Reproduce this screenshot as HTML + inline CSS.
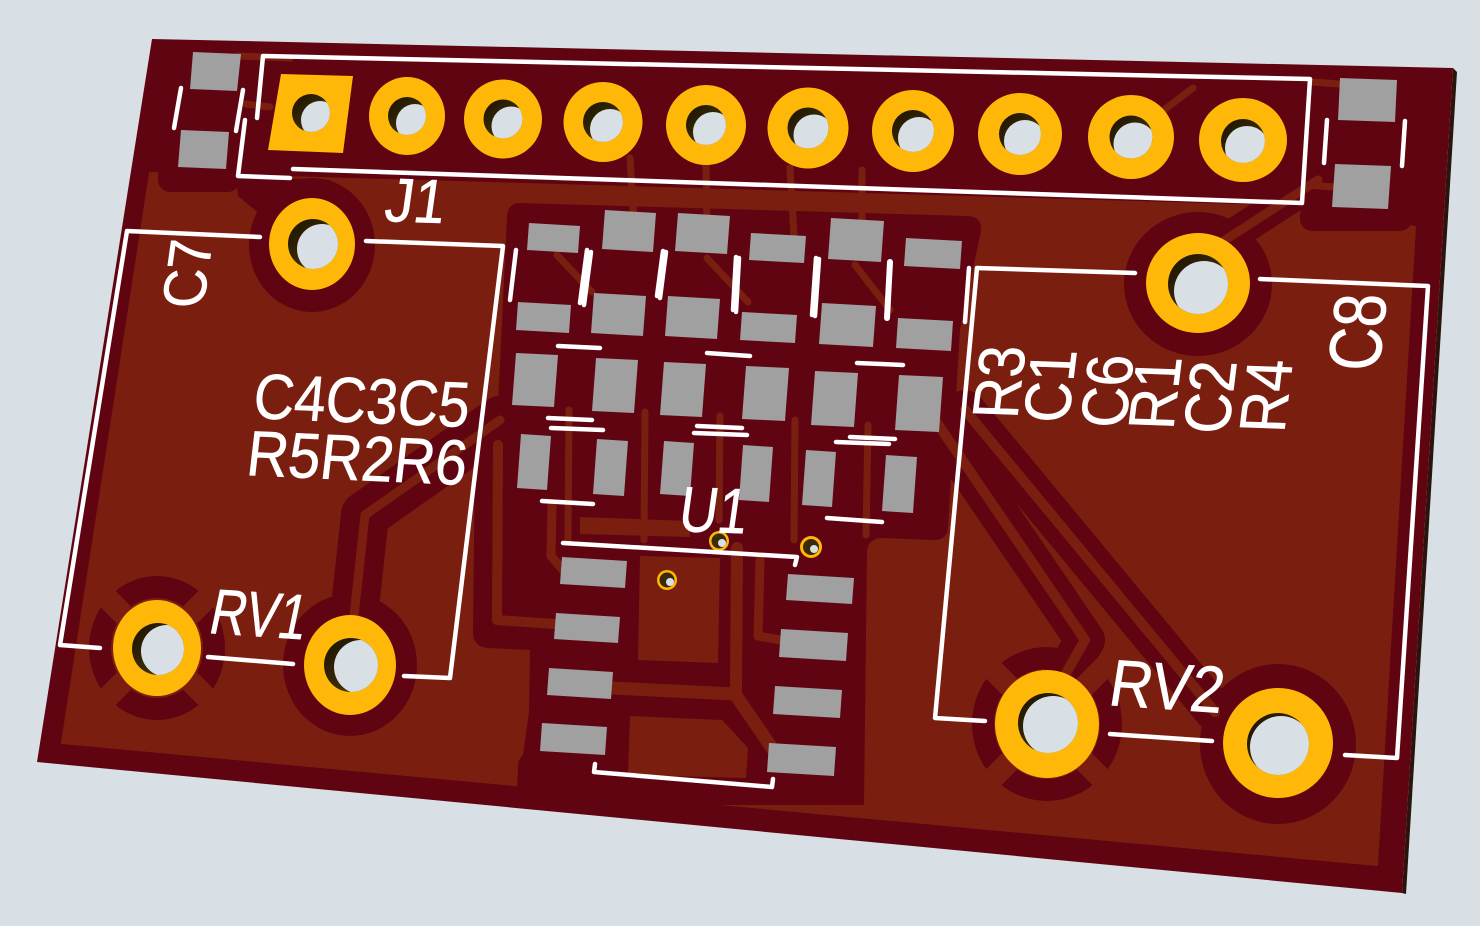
<!DOCTYPE html>
<html><head><meta charset="utf-8"><style>
html,body{margin:0;padding:0;background:#d8e0e6;}
svg{display:block}
text{font-family:"Liberation Sans",sans-serif;fill:#ffffff;stroke:#ffffff;stroke-width:0.6;}
</style></head><body>
<svg width="1480" height="926" viewBox="0 0 1480 926" xmlns="http://www.w3.org/2000/svg">
<defs>
 <linearGradient id="hg" x1="0" y1="0" x2="1" y2="1">
   <stop offset="0" stop-color="#1a1200"/><stop offset="0.6" stop-color="#3c2c06"/><stop offset="1" stop-color="#7a6418"/>
 </linearGradient>
 <clipPath id="c1"><circle cx="311" cy="113" r="19"/></clipPath>
 <clipPath id="c2"><circle cx="407" cy="116" r="19"/></clipPath>
 <clipPath id="c3"><circle cx="503" cy="119" r="19.5"/></clipPath>
 <clipPath id="c4"><circle cx="603" cy="122" r="20"/></clipPath>
 <clipPath id="c5"><circle cx="706" cy="125" r="20"/></clipPath>
 <clipPath id="c6"><circle cx="808" cy="128" r="20.5"/></clipPath>
 <clipPath id="c7"><circle cx="913" cy="131" r="21"/></clipPath>
 <clipPath id="c8"><circle cx="1020" cy="134" r="21"/></clipPath>
 <clipPath id="c9"><circle cx="1131" cy="137" r="21.5"/></clipPath>
 <clipPath id="c10"><circle cx="1243" cy="141" r="22"/></clipPath>
 <clipPath id="c11"><circle cx="313" cy="244" r="25"/></clipPath>
 <clipPath id="c12"><circle cx="1198" cy="284" r="30"/></clipPath>
 <clipPath id="c13"><circle cx="158" cy="649" r="26"/></clipPath>
 <clipPath id="c14"><circle cx="351" cy="665" r="27"/></clipPath>
 <clipPath id="c15"><circle cx="1048" cy="723" r="30"/></clipPath>
 <clipPath id="c16"><circle cx="1278" cy="744" r="31"/></clipPath>
</defs>
<rect width="1480" height="926" fill="#d8e0e6"/>

<polygon points="1453,68 1457,72 1406,894 1402,893" fill="#2a140c"/>
<polygon points="152,39 1453,68 1402,893 37,762" fill="#600412"/>

<polygon points="150,173 1305,207 1415,227 1377,865 62,743" fill="#7a1f10" stroke="#7a1f10" stroke-width="2" stroke-linejoin="round"/>

<g fill="#600412">
 <rect x="158" y="160" width="82" height="32" rx="12"/>
 <rect x="1300" y="203" width="112" height="28" rx="12"/>
 <polygon points="236,176 330,180 338,200 300,214 262,216 238,196"/>
 <ellipse cx="312" cy="245" rx="63" ry="67"/>
 <ellipse cx="1198" cy="284" rx="74" ry="72"/>
 <path d="M520,203 L968,216 Q982,217 981,231 L960,330 L948,528 Q947,540 934,540 L880,538 Q867,540 867,553 L864,805 L516,805 L518,770 Q517,760 523,755 L529,712 L530,650 L488,648 Q473,647 473,632 L475,445 L497,425 L503,300 L507,216 Q508,203 520,203 Z"/>
 <ellipse cx="350" cy="665" rx="67" ry="71"/>
 <ellipse cx="1278" cy="744" rx="78" ry="80"/>
 <circle cx="719" cy="541" r="16"/>
 <circle cx="811" cy="547" r="17"/>
</g>
<g fill="none" stroke="#600412" stroke-linecap="round" stroke-linejoin="round">
 <polyline points="500,420 365,515 353,625" stroke-width="48"/>
 <polyline points="1222,242 1318,180" stroke-width="32"/>
 <polyline points="935,420 1085,640 1062,680" stroke-width="40"/>
 <polyline points="965,410 1215,712" stroke-width="40"/>
</g>
<ellipse cx="157" cy="648" rx="57" ry="61" fill="none" stroke="#600412" stroke-width="22"/>
<ellipse cx="1047" cy="724" rx="64" ry="66" fill="none" stroke="#600412" stroke-width="22"/>
<g stroke="#7a1f10" stroke-width="22" stroke-linecap="butt">
 <line x1="157" y1="648" x2="212" y2="593"/><line x1="157" y1="648" x2="102" y2="593"/>
 <line x1="157" y1="648" x2="212" y2="703"/><line x1="157" y1="648" x2="102" y2="703"/>
 <line x1="1047" y1="724" x2="1108" y2="663"/><line x1="1047" y1="724" x2="986" y2="663"/>
 <line x1="1047" y1="724" x2="1108" y2="785"/><line x1="1047" y1="724" x2="986" y2="785"/>
</g>

<g fill="#7a1f10">
 <polygon points="640,556 720,558 718,663 638,660"/>
 <polygon points="580,517 690,521 690,537 580,534"/>
 <polygon points="630,716 722,720 748,748 746,778 628,775"/>
</g>
<g fill="none" stroke="#7a1f10" stroke-linecap="round" stroke-linejoin="round">
 <polyline points="500,420 365,515 353,625" stroke-width="9"/>
 <polyline points="1222,242 1318,180" stroke-width="9"/>
 <polyline points="935,420 1085,640 1062,680" stroke-width="10"/>
 <polyline points="965,410 1215,712" stroke-width="10"/>
 <polyline points="498,445 497,620 555,624" stroke-width="10"/>
 <polyline points="552,505 551,556 563,570" stroke-width="9"/>
 <polyline points="613,688 735,694 772,748" stroke-width="13"/>
 <polyline points="737,548 736,690" stroke-width="12"/>
 <polyline points="760,560 758,636 780,640" stroke-width="9"/>
 <g stroke-width="7">
  <line x1="569" y1="410" x2="568" y2="540"/>
  <line x1="645" y1="412" x2="644" y2="540"/>
  <line x1="720" y1="416" x2="719" y2="520"/>
  <line x1="795" y1="420" x2="794" y2="540"/>
  <line x1="868" y1="425" x2="866" y2="535"/>
  <line x1="557" y1="255" x2="592" y2="292"/>
  <line x1="707" y1="258" x2="748" y2="302"/>
  <line x1="855" y1="265" x2="890" y2="310"/>
  <line x1="238" y1="56" x2="290" y2="58"/>
  <line x1="246" y1="104" x2="270" y2="107"/>
  <line x1="630" y1="158" x2="634" y2="222"/>
  <line x1="706" y1="165" x2="707" y2="222"/>
  <line x1="790" y1="168" x2="794" y2="236"/>
  <line x1="862" y1="170" x2="862" y2="222"/>
  <line x1="1313" y1="82" x2="1340" y2="84"/>
  <line x1="1307" y1="185" x2="1334" y2="187"/>
  <line x1="1160" y1="113" x2="1193" y2="88"/>
 </g>
</g>

<g fill="#a0a0a0">
 <polygon points="193,52 241,54 237,91 190,89"/>
 <polygon points="181,130 229,132 226,169 178,167"/>
 <polygon points="1340,78 1397,80 1395,122 1338,120"/>
 <polygon points="1335,164 1391,166 1388,209 1332,207"/>

 <polygon points="529,223 580,226 578,253 527,250"/>
 <polygon points="605,210 656,213 653,252 602,249"/>
 <polygon points="678,213 730,216 727,254 675,251"/>
 <polygon points="751,233 806,236 804,263 749,260"/>
 <polygon points="831,218 884,221 881,262 828,259"/>
 <polygon points="906,238 962,241 960,269 904,266"/>

 <polygon points="518,302 571,305 569,333 516,330"/>
 <polygon points="594,293 646,296 643,336 591,333"/>
 <polygon points="668,296 720,299 717,339 665,336"/>
 <polygon points="742,312 797,315 795,343 740,340"/>
 <polygon points="822,303 876,306 873,347 819,344"/>
 <polygon points="898,318 953,321 951,351 896,348"/>

 <polygon points="516,353 558,355 554,407 512,405"/>
 <polygon points="596,358 638,360 634,413 592,411"/>
 <polygon points="664,362 706,364 702,417 660,415"/>
 <polygon points="746,366 789,368 785,421 742,419"/>
 <polygon points="815,371 858,373 854,427 811,425"/>
 <polygon points="899,375 943,377 939,432 895,430"/>

 <polygon points="521,434 551,436 547,490 517,488"/>
 <polygon points="597,439 628,441 624,496 593,494"/>
 <polygon points="664,441 694,443 690,496 660,494"/>
 <polygon points="743,445 773,447 769,502 739,500"/>
 <polygon points="806,450 836,452 832,507 802,505"/>
 <polygon points="886,455 917,457 913,513 882,511"/>

 <polygon points="562,557 627,561 625,588 560,584"/>
 <polygon points="556,613 620,617 618,643 554,639"/>
 <polygon points="549,668 613,672 611,699 547,695"/>
 <polygon points="542,723 607,727 605,755 540,751"/>
 <polygon points="788,574 854,578 852,604 786,600"/>
 <polygon points="781,629 848,633 846,661 779,657"/>
 <polygon points="775,686 842,690 840,718 773,714"/>
 <polygon points="769,743 836,747 834,776 767,772"/>
</g>

<g fill="#ffb808">
 <polygon points="281,74 353,76 343,153 268,150"/>
 <ellipse cx="407" cy="116" rx="38" ry="39"/>
 <ellipse cx="503" cy="119" rx="39" ry="39.5"/>
 <ellipse cx="603" cy="122" rx="39.5" ry="40"/>
 <ellipse cx="706" cy="125" rx="40" ry="40"/>
 <ellipse cx="808" cy="128" rx="40.5" ry="40.5"/>
 <ellipse cx="913" cy="131" rx="41" ry="41"/>
 <ellipse cx="1020" cy="134" rx="42" ry="41"/>
 <ellipse cx="1131" cy="137" rx="43" ry="42"/>
 <ellipse cx="1243" cy="140" rx="44" ry="42"/>
 <ellipse cx="312" cy="244" rx="43" ry="46"/>
 <ellipse cx="1198" cy="283" rx="52" ry="50"/>
 <ellipse cx="157" cy="648" rx="44" ry="48"/>
 <ellipse cx="350" cy="665" rx="46" ry="50"/>
 <ellipse cx="1047" cy="724" rx="52" ry="54"/>
 <ellipse cx="1278" cy="743" rx="55" ry="55"/>
 <circle cx="667" cy="580" r="10"/>
 <circle cx="719" cy="541" r="10"/>
 <circle cx="811" cy="547" r="11"/>
</g>
<g fill="#3a2a06">
 <circle cx="667" cy="580" r="7.5"/>
 <circle cx="719" cy="541" r="7.5"/>
 <circle cx="811" cy="547" r="8"/>
</g>

<g>
 <circle cx="311" cy="113" r="19" fill="url(#hg)"/><circle cx="320" cy="120" r="19" fill="#d8e0e6" clip-path="url(#c1)"/>
 <circle cx="407" cy="116" r="19" fill="url(#hg)"/><circle cx="415" cy="123" r="19" fill="#d8e0e6" clip-path="url(#c2)"/>
 <circle cx="503" cy="119" r="19.5" fill="url(#hg)"/><circle cx="511" cy="126" r="19.5" fill="#d8e0e6" clip-path="url(#c3)"/>
 <circle cx="603" cy="122" r="20" fill="url(#hg)"/><circle cx="610" cy="129" r="20" fill="#d8e0e6" clip-path="url(#c4)"/>
 <circle cx="706" cy="125" r="20" fill="url(#hg)"/><circle cx="713" cy="132" r="20" fill="#d8e0e6" clip-path="url(#c5)"/>
 <circle cx="808" cy="128" r="20.5" fill="url(#hg)"/><circle cx="814" cy="135" r="20.5" fill="#d8e0e6" clip-path="url(#c6)"/>
 <circle cx="913" cy="131" r="21" fill="url(#hg)"/><circle cx="919" cy="138" r="21" fill="#d8e0e6" clip-path="url(#c7)"/>
 <circle cx="1020" cy="134" r="21" fill="url(#hg)"/><circle cx="1025" cy="141" r="21" fill="#d8e0e6" clip-path="url(#c8)"/>
 <circle cx="1131" cy="137" r="21.5" fill="url(#hg)"/><circle cx="1135" cy="144" r="21.5" fill="#d8e0e6" clip-path="url(#c9)"/>
 <circle cx="1243" cy="141" r="22" fill="url(#hg)"/><circle cx="1247" cy="148" r="22" fill="#d8e0e6" clip-path="url(#c10)"/>
 <circle cx="313" cy="244" r="25" fill="url(#hg)"/><circle cx="322" cy="249" r="25" fill="#d8e0e6" clip-path="url(#c11)"/>
 <circle cx="1198" cy="284" r="30" fill="url(#hg)"/><circle cx="1204" cy="291" r="30" fill="#d8e0e6" clip-path="url(#c12)"/>
 <circle cx="158" cy="649" r="26" fill="url(#hg)"/><circle cx="167" cy="651" r="26" fill="#d8e0e6" clip-path="url(#c13)"/>
 <circle cx="351" cy="665" r="27" fill="url(#hg)"/><circle cx="361" cy="667" r="27" fill="#d8e0e6" clip-path="url(#c14)"/>
 <circle cx="1048" cy="723" r="30" fill="url(#hg)"/><circle cx="1053" cy="726" r="30" fill="#d8e0e6" clip-path="url(#c15)"/>
 <circle cx="1278" cy="744" r="31" fill="url(#hg)"/><circle cx="1281" cy="747" r="31" fill="#d8e0e6" clip-path="url(#c16)"/>
 <circle cx="670" cy="582" r="4" fill="#d8e0e6"/>
 <circle cx="722" cy="543" r="4" fill="#d8e0e6"/>
 <circle cx="814" cy="549" r="4" fill="#d8e0e6"/>
</g>

<g fill="none" stroke="#ffffff" stroke-width="4.5" stroke-linecap="round" stroke-linejoin="round">
 <polyline points="257,118 263,56 1310,79 1302,203 293,169"/>
 <polyline points="245,120 238,176 290,178"/>
 <line x1="181" y1="88" x2="174" y2="128"/>
 <line x1="243" y1="90" x2="236" y2="131"/>
 <line x1="1327" y1="120" x2="1324" y2="163"/>
 <line x1="1405" y1="121" x2="1402" y2="166"/>
 <polyline points="260,237 127,231 60,645 100,648"/>
 <polyline points="366,241 503,246 450,678 404,676"/>
 <line x1="208" y1="657" x2="293" y2="664"/>
 <polyline points="1135,273 977,268 935,718 985,721"/>
 <polyline points="1260,279 1428,286 1397,758 1345,755"/>
 <line x1="1110" y1="734" x2="1212" y2="741"/>
 <line x1="516" y1="250" x2="510" y2="300"/>
 <line x1="587" y1="250" x2="580" y2="303"/>
 <line x1="591" y1="252" x2="584" y2="305"/>
 <line x1="663" y1="251" x2="657" y2="296"/>
 <line x1="666" y1="252" x2="660" y2="298"/>
 <line x1="736" y1="257" x2="733" y2="310"/>
 <line x1="739" y1="258" x2="736" y2="312"/>
 <line x1="816" y1="258" x2="812" y2="315"/>
 <line x1="819" y1="259" x2="815" y2="316"/>
 <line x1="890" y1="262" x2="887" y2="318" stroke-width="6"/>
 <line x1="969" y1="268" x2="965" y2="322"/>
 <line x1="558" y1="346" x2="600" y2="348"/>
 <line x1="707" y1="353" x2="750" y2="356"/>
 <line x1="857" y1="363" x2="903" y2="365"/>
 <line x1="548" y1="418" x2="592" y2="420"/>
 <line x1="551" y1="428" x2="603" y2="430"/>
 <line x1="697" y1="426" x2="742" y2="428"/>
 <line x1="694" y1="433" x2="747" y2="435"/>
 <line x1="850" y1="437" x2="895" y2="439"/>
 <line x1="836" y1="442" x2="889" y2="444"/>
 <line x1="542" y1="501" x2="593" y2="504"/>
 <line x1="827" y1="518" x2="882" y2="522"/>
 <polyline points="563,543 797,557 795,565"/>
 <polyline points="595,764 594,772 772,787 773,779"/>
</g>

<text x="0" y="0" font-size="62" textLength="60" lengthAdjust="spacingAndGlyphs" transform="translate(383,221) rotate(2) skewX(-6)">J1</text>
<text x="0" y="0" font-size="64" textLength="216" lengthAdjust="spacingAndGlyphs" transform="translate(252,418) rotate(2.4) skewX(-3)">C4C3C5</text>
<text x="0" y="0" font-size="64" textLength="220" lengthAdjust="spacingAndGlyphs" transform="translate(245,475) rotate(2.6) skewX(-4)">R5R2R6</text>
<text x="0" y="0" font-size="64" textLength="96" lengthAdjust="spacingAndGlyphs" transform="translate(207,633) rotate(3.8) skewX(-8)">RV1</text>
<text x="0" y="0" font-size="66" textLength="114" lengthAdjust="spacingAndGlyphs" transform="translate(1107,705) rotate(4) skewX(-5)">RV2</text>
<text x="0" y="0" font-size="64" textLength="68" lengthAdjust="spacingAndGlyphs" transform="translate(677,531) rotate(2) skewX(-6)">U1</text>

<g transform="translate(186,273) skewX(-8) rotate(-90)"><text x="0" y="22" font-size="60" text-anchor="middle" textLength="70" lengthAdjust="spacingAndGlyphs">C7</text></g>
<g transform="translate(1356,332) skewX(-4) rotate(-88)"><text x="0" y="27" font-size="74" text-anchor="middle" textLength="77" lengthAdjust="spacingAndGlyphs">C8</text></g>
<g transform="translate(998,382) skewX(-5) rotate(-88)"><text x="0" y="23.5" font-size="65" text-anchor="middle" textLength="73" lengthAdjust="spacingAndGlyphs">R3</text></g>
<g transform="translate(1049,386) skewX(-5) rotate(-88)"><text x="0" y="23.5" font-size="65" text-anchor="middle" textLength="73" lengthAdjust="spacingAndGlyphs">C1</text></g>
<g transform="translate(1106,391) skewX(-5) rotate(-88)"><text x="0" y="23.5" font-size="65" text-anchor="middle" textLength="73" lengthAdjust="spacingAndGlyphs">C6</text></g>
<g transform="translate(1154,393) skewX(-5) rotate(-88)"><text x="0" y="23.5" font-size="65" text-anchor="middle" textLength="73" lengthAdjust="spacingAndGlyphs">R1</text></g>
<g transform="translate(1209,397) skewX(-5) rotate(-88)"><text x="0" y="23.5" font-size="65" text-anchor="middle" textLength="73" lengthAdjust="spacingAndGlyphs">C2</text></g>
<g transform="translate(1265,396) skewX(-5) rotate(-88)"><text x="0" y="23.5" font-size="65" text-anchor="middle" textLength="73" lengthAdjust="spacingAndGlyphs">R4</text></g>
</svg>
</body></html>
